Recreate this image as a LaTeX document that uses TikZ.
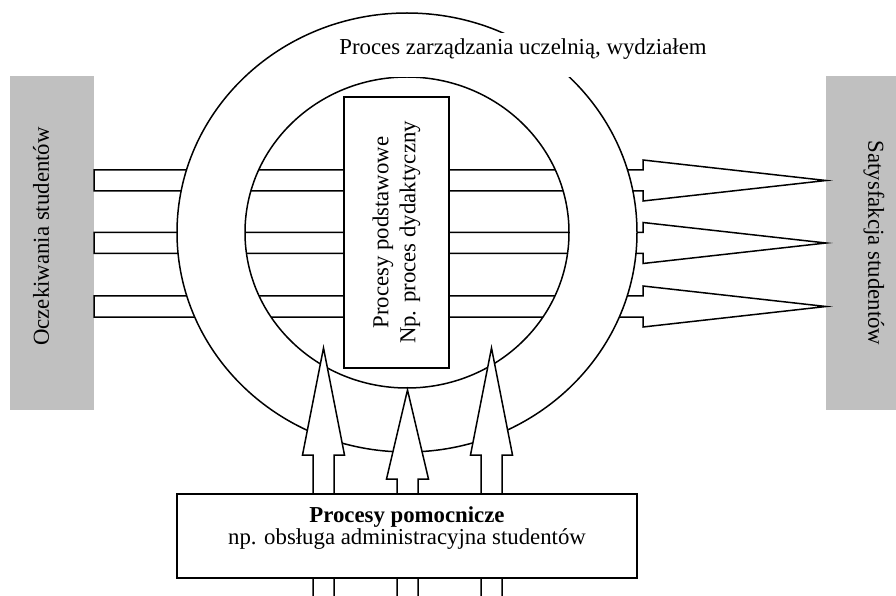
\documentclass[tikz,border=0pt]{standalone}
\usepackage{fontspec}
\setmainfont{Liberation Serif}
\usetikzlibrary{positioning}
\definecolor{boxgray}{RGB}{192,192,192}

\begin{document}
\begin{tikzpicture}[x=1pt,y=1pt,line width=1.5pt,line join=miter,
	every node/.style={font=\fontsize{22.8}{27}\selectfont},
	side/.style={fill=boxgray,draw=none,inner sep=0pt},
	proc/.style={draw,fill=white,inner sep=0pt},
	block/.style={draw,fill=white}]
	\useasboundingbox (0,0) rectangle (896,595);

	\node[side, minimum width=84pt, minimum height=334pt] (ocz) at (52,352) {};
	\node[rotate=90] (ocztext) at (41,358.5) {Oczekiwania studentów};
	\node[side, minimum width=70pt, minimum height=334pt] (sat) at (861,352) {};
	\node[rotate=-90] (sattext) at (874,352) {Satysfakcja studentów};

	\draw[block] (94,425) -- (643,425) -- (643,435) -- (826,414.5) -- (643,394) -- (643,404) -- (94,404) -- cycle;
	\draw[block] (94,362.5) -- (643,362.5) -- (643,372.5) -- (826,352) -- (643,331.5) -- (643,341.5) -- (94,341.5) -- cycle;
	\draw[block] (94,299) -- (643,299) -- (643,309) -- (826,288.5) -- (643,268) -- (643,278) -- (94,278) -- cycle;

	\fill[white, even odd rule] (407,362.5) ellipse [x radius=230, y radius=219.5]
		(407,362.5) ellipse [x radius=162, y radius=155.5];
	\draw (407,362.5) ellipse [x radius=230, y radius=219.5];
	\draw (407,362.5) ellipse [x radius=162, y radius=155.5];

	\node[proc, rotate=90, minimum width=271pt, minimum height=105pt, align=center] (podst) at (396.5,362.5) {Procesy podstawowe\\Np. proces dydaktyczny};

	\draw[block] (313,-2) -- (313,140) -- (302.5,140) -- (323.5,247) -- (344.5,140) -- (334,140) -- (334,-2);
	\draw[block] (397,-2) -- (397,116) -- (386.5,116) -- (407.5,205) -- (428.5,116) -- (418,116) -- (418,-2);
	\draw[block] (481,-2) -- (481,140) -- (470.5,140) -- (491.5,247) -- (512.5,140) -- (502,140) -- (502,-2);

	\node[proc, minimum width=460pt, minimum height=84pt] (pomoc) at (407,59) {};
	\node[align=center, font=\fontsize{22.8}{17.5}\selectfont] (pomoctext) at (407,66.7) {\textbf{Procesy pomocnicze}\\np. obsługa administracyjna studentów};

	\node[fill=white, inner xsep=4pt, inner ysep=0pt, minimum height=44pt, text height=16pt, text depth=16pt] (zarz) at (523,540) {Proces zarządzania uczelnią, wydziałem};
\end{tikzpicture}
\end{document}
